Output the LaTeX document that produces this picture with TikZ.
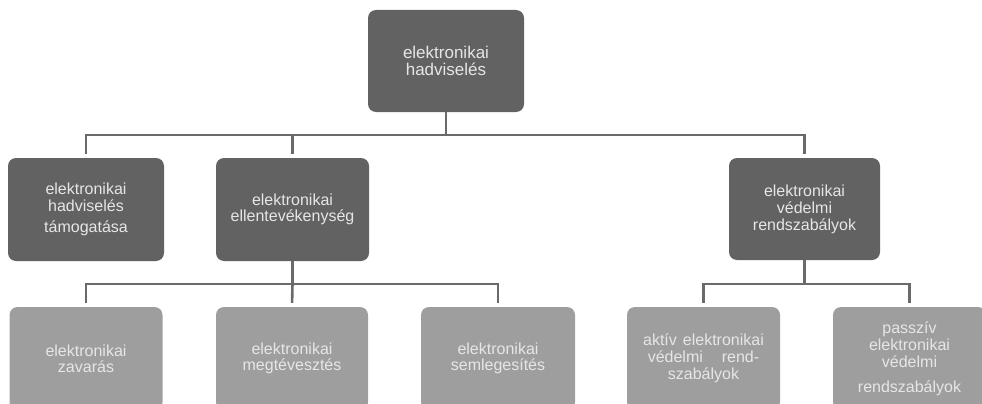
\documentclass[tikz,border=0pt]{standalone}
\usepackage{fontspec}
\setmainfont{Liberation Sans}
\definecolor{darkbox}{HTML}{626262}
\definecolor{lightbox}{HTML}{9E9E9E}
\definecolor{boxtext}{HTML}{E6E6E6}
\definecolor{linegray}{HTML}{6A6A6A}
\begin{document}
\begin{tikzpicture}[x=1pt,y=-1pt,
  box/.style={rectangle, rounded corners=8pt, inner sep=0pt, align=center,
    text=boxtext, font=\fontsize{16}{17}\selectfont, minimum height=103pt},
  darkb/.style={box, fill=darkbox},
  lightb/.style={box, fill=lightbox},
  conn/.style={draw=linegray, line width=2.6pt}]
\useasboundingbox (0,0) rectangle (982,404);
\clip (0,0) rectangle (982,404);
% top
\node[darkb, minimum width=156pt, minimum height=102pt, font=\fontsize{17}{17}\selectfont] (top) at (446,61) {elektronikai\\hadviselés};
% row 2
\node[darkb, minimum width=156pt] (sup) at (86,209.5) {elektronikai\\hadviselés\\[4pt]támogatása};
\node[darkb, minimum width=153pt] (ea) at (292.5,209.5) {elektronikai\\[-1pt]ellentevékenység};
\node[darkb, minimum width=151pt, minimum height=102pt] (ev) at (804.5,209) {elektronikai\\védelmi\\rendszabályok};
% row 3
\node[lightb, minimum width=153pt] (zav) at (86,358.5) {elektronikai\\[-1pt]zavarás};
\node[lightb, minimum width=152pt] (meg) at (292,358.5) {elektronikai\\[-1pt]megtévesztés};
\node[lightb, minimum width=154pt] (sem) at (498,358.5) {elektronikai\\[-1pt]semlegesítés};
\node[lightb, minimum width=153pt] (akt) at (703.5,358.5) {aktív\hspace{6pt}elektronikai\\védelmi\hspace{19pt}rend-\\szabályok};
\node[lightb, minimum width=153pt] (pas) at (909.5,358.5) {passzív\\elektronikai\\védelmi\\[8pt]rendszabályok};
% junctions
\coordinate (j1) at (446,135);
\coordinate (j2) at (292.5,284);
\coordinate (j3) at (804.5,284);
% connectors
\draw[conn] (top.south) -- (j1);
\draw[conn, shorten <=4pt] (sup.north) |- (j1);
\draw[conn, shorten <=4pt] (ea.north) |- (j1);
\draw[conn, shorten <=4pt] (ev.north) |- (j1);
\draw[conn] (ea.south) -- (j2);
\draw[conn, shorten <=4pt] (zav.north) |- (j2);
\draw[conn, shorten <=4pt] (meg.north) -- (j2);
\draw[conn, shorten <=4pt] (sem.north) |- (j2);
\draw[conn] (ev.south) -- (j3);
\draw[conn, shorten <=4pt] (akt.north) |- (j3);
\draw[conn, shorten <=4pt] (pas.north) |- (j3);
\end{tikzpicture}
\end{document}
